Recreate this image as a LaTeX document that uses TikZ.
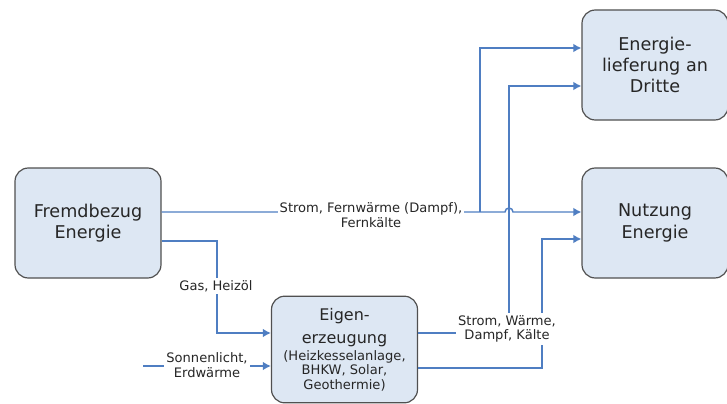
\documentclass[tikz,border=0pt]{standalone}
\usepackage{fontspec}
\setmainfont{DejaVu Sans}
\usetikzlibrary{arrows.meta}
\definecolor{boxfill}{HTML}{DDE7F3}
\definecolor{boxline}{HTML}{505050}
\definecolor{flowblue}{HTML}{4F7EC2}
\newcommand{\subfont}{\fontsize{9.8}{11}\selectfont}

\begin{document}
\begin{tikzpicture}[x=0.75pt,y=-0.75pt,
  box/.style={draw=boxline,fill=boxfill,line width=0.9pt,rounded corners=10pt,
    align=center,font=\fontsize{13.2}{16}\selectfont,text=black!85,
    minimum width=109.5pt,minimum height=82.5pt,inner sep=2pt},
  flow/.style={draw=flowblue,line width=1.1pt,-{Latex[length=6pt,width=6.5pt]}},
  lbl/.style={fill=white,inner sep=1.5pt,align=center,text=black!85,font=\fontsize{9.8}{11}\selectfont}]

\useasboundingbox (0,0) rectangle (727,403);

\node[box] (fb) at (88,223) {Fremdbezug\\Energie};
\node[box] (nu) at (655,223) {Nutzung\\Energie};
\node[box] (el) at (655,65) {Energie-\\lieferung an\\Dritte};
\node[box,minimum height=80pt,font=\fontsize{12}{11}\selectfont] (ei) at (344.5,349.5)
  {Eigen-\\[6.25pt]erzeugung\\[1.75pt]\subfont(Heizkesselanlage,\\[-0.5pt]\subfont BHKW, Solar,\\[0.25pt]\subfont Geothermie)};

\coordinate (r1) at (0,212);
\coordinate (hop) at (505,212);
\coordinate (br) at (480,212);
\coordinate (r2) at (0,241);
\coordinate (g1) at (217,290);
\coordinate (r3) at (0,333);
\coordinate (sun) at (143,366);
\coordinate (q2) at (509,86);
\coordinate (r4) at (0,368);
\coordinate (q3) at (542,239);

% Fremdbezug
\draw[flow] (fb.east |- r1) -- (hop) arc[start angle=180,end angle=360,radius=4] -- (nu.west |- r1);
\draw[flow] (br) |- ([yshift=12.75pt]el.west);
\draw[flow] (fb.east |- r2) -| (g1) |- (ei.west |- r3);
\draw[flow] (sun) -- (ei.west |- sun);

% Eigenerzeugung
\draw[flow] (ei.east |- r3) -| (q2) -- (el.west |- q2);
\draw[flow] (ei.east |- r4) -| (q3) -- (nu.west |- q3);

\node[lbl] (l1) at (371,215) {Strom, Fernwärme (Dampf),\\Fernkälte};
\node[lbl] (l2) at (216,286) {Gas, Heizöl};
\node[lbl] (l3) at (207,365) {Sonnenlicht,\\Erdwärme};
\node[lbl] (l4) at (507,329) {Strom, Wärme,\\Dampf, Kälte};
\end{tikzpicture}
\end{document}
